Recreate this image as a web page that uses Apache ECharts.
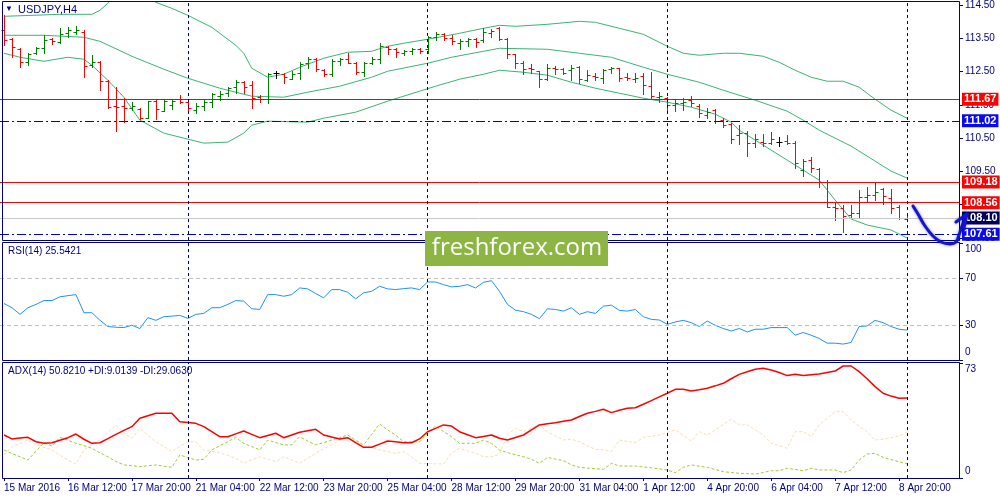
<!DOCTYPE html>
<html><head><meta charset="utf-8">
<script src="https://cdn.jsdelivr.net/npm/echarts@6/dist/echarts.min.js"></script>
<style>html,body{margin:0;padding:0;background:#fff}#c{width:1000px;height:500px}</style>
</head><body><div id="c"></div>
<script>
// ---------- DATA ----------
const tickLabels = ['15 Mar 2016','16 Mar 12:00','17 Mar 20:00','21 Mar 04:00','22 Mar 12:00','23 Mar 20:00','25 Mar 04:00','28 Mar 12:00','29 Mar 20:00','31 Mar 04:00','1 Apr 12:00','4 Apr 20:00','6 Apr 04:00','7 Apr 12:00','8 Apr 20:00'];
const weekStarts = [23, 53, 83, 113];
const priceTicks = [114.5, 113.5, 112.5, 111.5, 110.5, 109.5, 108.5, 107.5];

const open = [113.74,113.47,113.17,112.78,113.05,113.20,113.47,113.38,113.65,113.68,
 113.68,112.69,112.78,112.21,111.46,111.46,111.40,111.37,111.10,111.61,
 111.31,111.49,111.67,111.58,111.34,111.46,111.58,111.76,111.85,112.03,
 112.18,112.09,111.73,111.67,112.45,112.42,112.27,112.45,112.75,112.87,
 112.54,112.42,112.81,112.87,112.75,112.48,112.75,112.87,113.23,113.17,
 113.05,113.11,113.17,113.17,113.53,113.62,113.50,113.35,113.41,113.47,
 113.44,113.65,113.80,113.47,113.02,112.75,112.60,112.51,112.27,112.60,
 112.57,112.54,112.63,112.24,112.36,112.30,112.57,112.60,112.33,112.27,
 112.36,112.06,111.73,111.70,111.49,111.55,111.64,111.46,111.19,111.34,
 111.04,110.92,110.59,110.65,110.35,110.38,110.35,110.38,110.41,110.35,
 109.54,109.84,109.57,109.18,108.43,108.40,108.19,108.25,108.73,108.79,
 108.97,108.70,108.43,108.07];
const high = [114.19,113.50,113.20,113.05,113.23,113.59,113.50,113.80,113.83,113.86,
 113.74,112.99,112.81,112.24,112.03,111.70,111.58,111.40,111.61,111.64,
 111.64,111.64,111.79,111.58,111.55,111.64,111.85,111.91,112.03,112.24,
 112.21,112.21,111.79,112.45,112.51,112.45,112.51,112.78,112.93,112.90,
 112.57,112.87,112.90,113.05,112.78,112.78,112.93,113.35,113.26,113.20,
 113.14,113.20,113.20,113.56,113.68,113.65,113.59,113.47,113.50,113.50,
 113.80,113.77,113.83,113.50,113.02,112.81,112.72,112.51,112.72,112.66,
 112.60,112.69,112.66,112.54,112.45,112.57,112.63,112.60,112.45,112.45,
 112.45,112.48,111.88,111.73,111.64,111.70,111.76,111.52,111.40,111.37,
 111.10,110.95,110.89,110.71,110.62,110.62,110.68,110.53,110.59,110.41,
 109.87,109.93,109.60,109.24,108.55,108.49,108.49,108.94,109.03,109.15,
 109.00,108.97,108.49,108.19];
const low = [113.29,112.93,112.63,112.69,113.02,113.05,113.32,113.35,113.53,113.62,
 112.33,112.63,111.94,111.40,110.71,110.98,111.34,111.07,111.10,111.07,
 111.31,111.37,111.55,111.25,111.25,111.34,111.43,111.64,111.76,111.85,
 111.85,111.40,111.58,111.55,112.30,112.15,112.27,112.27,112.60,112.51,
 112.36,112.36,112.69,112.75,112.42,112.36,112.72,112.75,113.02,112.93,
 112.99,113.02,113.05,113.05,113.44,113.44,113.32,113.17,113.26,113.23,
 113.38,113.53,113.44,112.90,112.60,112.42,112.45,112.03,112.24,112.42,
 112.42,112.24,112.15,112.21,112.24,112.15,112.45,112.21,112.24,112.18,
 111.82,111.70,111.58,111.34,111.31,111.34,111.46,111.13,111.10,110.95,
 110.83,110.35,110.32,109.96,110.23,110.26,110.32,110.26,110.32,109.60,
 109.36,109.48,109.03,108.43,108.04,107.68,108.13,108.13,108.58,108.64,
 108.52,108.25,108.07,108.04];
const close = [113.44,113.23,112.78,113.02,113.20,113.44,113.41,113.62,113.74,113.74,
 112.66,112.78,112.21,111.43,111.43,111.40,111.46,111.10,111.61,111.37,
 111.61,111.61,111.58,111.40,111.46,111.58,111.82,111.82,112.00,112.18,
 112.03,111.70,111.67,112.42,112.45,112.33,112.42,112.72,112.87,112.57,
 112.42,112.81,112.87,112.75,112.48,112.75,112.87,113.26,113.17,113.08,
 113.11,113.17,113.11,113.53,113.62,113.50,113.41,113.41,113.47,113.38,
 113.68,113.71,113.47,113.02,112.75,112.57,112.57,112.27,112.60,112.57,
 112.45,112.60,112.27,112.39,112.33,112.54,112.60,112.30,112.30,112.30,
 112.09,111.76,111.76,111.49,111.55,111.58,111.55,111.25,111.28,111.01,
 110.89,110.47,110.65,110.35,110.47,110.35,110.47,110.38,110.35,109.75,
 109.81,109.60,109.18,108.43,108.40,108.16,108.25,108.73,108.79,108.88,
 108.76,108.40,108.10,108.10];

const bbUpper = [[0,114.16],[7,114.22],[11,114.22],[12,114.34],[13,114.55],[14,114.82],[16,115.00],[18,114.79],[19,114.58],[21,114.40],[23,114.19],[26,113.83],[29,113.29],[30,113.05],[31,112.60],[33,112.33],[35,112.42],[37,112.63],[40,112.90],[43,113.08],[46,113.11],[48,113.26],[50,113.35],[53,113.47],[57,113.65],[60,113.80],[62,113.89],[64,113.86],[68,113.92],[72,114.01],[74,113.98],[77,113.80],[80,113.62],[83,113.26],[85,113.05],[87,112.99],[90,113.05],[92,113.05],[95,112.96],[97,112.78],[99,112.54],[101,112.33],[103,112.21],[105,112.21],[107,112.03],[109,111.67],[111,111.34],[113,111.10]];
const bbMiddle = [[0,113.59],[5,113.59],[10,113.53],[12,113.41],[16,112.96],[20,112.57],[23,112.30],[27,112.00],[31,111.76],[35,111.73],[38,111.88],[42,112.06],[46,112.33],[48,112.51],[53,112.75],[56,112.93],[60,113.11],[62,113.20],[68,113.17],[72,113.05],[76,112.93],[80,112.63],[83,112.42],[87,112.18],[90,111.94],[94,111.64],[98,111.31],[100,111.04],[102,110.74],[106,110.26],[109,109.81],[111,109.51],[113,109.30]];
const bbLower = [[0,113.05],[2,112.93],[5,112.81],[8,112.93],[10,112.87],[11,112.69],[13,112.24],[15,111.73],[17,111.04],[20,110.65],[23,110.47],[25,110.35],[28,110.38],[30,110.65],[31,110.89],[33,111.01],[38,110.98],[40,111.10],[44,111.28],[48,111.61],[52,111.91],[54,112.06],[57,112.27],[60,112.42],[62,112.54],[65,112.48],[68,112.39],[71,112.18],[74,112.00],[77,111.85],[80,111.70],[83,111.58],[86,111.43],[89,111.22],[91,110.98],[92,110.74],[94,110.44],[98,109.84],[102,109.24],[104,108.64],[106,108.07],[108,107.89],[111,107.74],[113,107.50]];

const rsi = [48.3,44.7,39.0,44.7,47.5,50.8,50.8,54.0,55.0,55.9,
 40.4,40.4,34.0,28.6,28.0,27.7,29.7,26.9,36.2,33.9,
 37.0,37.5,38.1,35.6,39.0,39.8,44.7,44.7,47.5,50.8,
 50.3,43.8,43.2,55.9,55.9,54.5,55.9,61.6,60.8,56.8,
 53.1,60.2,60.2,57.9,52.3,57.4,58.7,63.0,60.8,60.2,
 61.0,61.6,60.2,66.7,66.7,64.4,62.5,63.0,64.4,61.6,
 66.4,67.8,58.7,47.5,42.6,41.3,39.0,35.3,43.8,43.2,
 41.8,44.7,39.0,41.3,39.8,46.0,46.9,42.4,41.8,43.2,
 37.0,34.7,34.2,30.5,32.5,33.9,31.9,28.6,33.3,29.7,
 26.9,24.8,26.9,24.0,26.3,26.3,27.7,27.7,27.7,21.2,
 23.5,21.2,18.4,14.4,14.4,13.6,15.0,28.6,29.1,33.9,
 31.9,28.6,26.3,25.5421];

const adx = [27.3,24.8,25.4,25.8,23.0,22.0,22.4,24.0,25.6,27.9,
 24.6,22.0,22.4,25.0,27.7,30.2,32.6,37.9,39.5,41.1,
 41.1,41.1,35.7,35.2,34.7,32.6,29.5,26.2,26.2,28.0,
 29.8,27.7,25.6,27.0,28.4,25.6,27.3,29.0,30.0,30.9,
 27.3,26.0,24.8,25.6,22.4,19.5,19.5,21.5,23.5,23.0,
 22.4,22.4,24.8,29.4,31.5,33.7,33.0,29.4,27.5,25.6,
 26.4,27.3,25.2,24.1,25.7,27.3,30.5,33.7,34.4,35.1,
 36.0,36.8,39.0,41.1,42.3,43.6,41.5,43.0,44.3,44.6,
 46.8,49.1,51.5,53.8,56.3,56.3,55.2,56.0,57.0,58.5,
 60.1,63.0,65.8,67.5,69.0,69.7,68.6,67.0,65.0,65.8,
 65.0,65.5,66.0,67.0,67.9,71.1,71.1,67.5,63.0,58.0,
 53.8,52.0,50.6,50.821];
const plusDI = [17.8,15.5,13.5,11.4,17.0,22.4,20.3,25.8,24.0,22.0,
 20.5,18.9,16.0,13.5,10.5,8.3,7.8,7.2,7.8,8.3,
 7.5,6.8,14.6,13.0,11.4,11.9,17.8,20.5,23.0,25.8,
 22.0,20.0,17.8,24.1,22.5,21.0,21.0,26.2,23.5,21.0,
 22.5,24.1,25.5,27.3,24.0,21.0,27.5,34.3,30.5,27.3,
 23.0,23.0,23.0,28.4,33.0,29.5,26.2,22.0,22.0,22.0,
 24.1,22.0,17.8,16.1,14.8,13.5,11.9,9.3,13.1,12.0,
 11.0,8.3,6.8,6.3,5.9,5.5,9.3,7.6,7.6,7.6,
 7.0,6.5,5.8,5.1,3.4,6.8,8.3,7.5,6.8,5.4,
 4.0,3.5,3.0,2.8,2.5,3.5,4.6,4.6,6.2,5.4,
 4.6,6.2,5.1,5.1,5.1,3.4,5.1,11.4,15.2,15.7,
 13.1,11.7,10.3,9.0139];
const minusDI = [14.6,19.9,22.0,24.1,21.0,19.5,17.8,14.5,11.4,8.9,
 17.8,21.0,24.1,29.0,33.7,28.4,25.2,31.6,27.0,23.0,
 20.0,16.7,20.0,23.0,23.0,17.8,17.0,16.1,14.3,12.5,
 9.3,11.5,13.5,12.0,10.3,13.5,11.5,9.3,12.5,15.7,
 18.5,21.0,24.0,27.3,23.0,21.0,19.4,17.8,16.8,15.7,
 16.7,13.5,9.3,9.1,9.0,8.9,15.7,18.9,17.3,15.7,
 13.5,13.5,15.0,27.3,31.6,29.4,31.6,33.7,29.4,26.7,
 24.1,24.6,23.0,20.5,18.2,17.8,16.7,24.1,23.2,22.4,
 25.8,26.5,27.3,29.0,30.5,27.0,23.5,29.4,27.3,30.5,
 34.0,37.3,33.7,33.7,30.5,27.3,22.0,20.5,18.9,29.4,
 29.4,26.2,33.7,38.0,42.1,42.1,36.8,33.0,29.4,24.1,
 24.6,25.6,26.7,29.063];

const levels = [
  {value: 111.67, kind: 'res'},
  {value: 111.02, kind: 'dash'},
  {value: 109.18, kind: 'res'},
  {value: 108.56, kind: 'res'},
  {value: 108.10, kind: 'bid'},
  {value: 107.61, kind: 'dash'}
];
const rsiLevels = [70, 30];

// ---------- STYLE ----------
const NAVY = '#000080';
const FONT = 'Liberation Sans';
const FS = 10;
const N = 120;
const cats = Array.from({length: N}, (_, i) => String(i));
const UP = '#008000', DOWN = '#ff0000', DOJI = '#000000';

const vLines = {
  silent: true, symbol: ['none', 'none'], animation: false,
  label: {show: false},
  lineStyle: {color: NAVY, type: [3, 3], width: 1},
  data: weekStarts.map(i => ({xAxis: String(i)}))
};

const levelStyle = {
  res:  {line: {color: '#ff0000', type: 'solid', width: 1}, bg: '#ff0000'},
  dash: {line: {color: '#0000cc', type: [9, 3, 2, 3], width: 1}, bg: '#0a0af0'},
  bid:  {line: {color: '#c8c8c8', type: 'solid', width: 1}, bg: '#00005a'}
};

const chart = echarts.init(document.getElementById('c'));

function xAx(grid, showLabels) {
  const show = idx => idx % 8 === 0 && idx <= 112;
  return {
    type: 'category', gridIndex: grid, data: cats, boundaryGap: true,
    axisLine: {show: false},
    axisTick: {show: showLabels, interval: show, alignWithLabel: true, length: 3, lineStyle: {color: NAVY}},
    axisLabel: {show: showLabels, interval: show, align: 'left', margin: 5,
      color: NAVY, fontFamily: FONT, fontSize: FS,
      formatter: (v, idx) => tickLabels[idx / 8]},
    splitLine: {show: false}
  };
}

const yBase = {
  position: 'right', splitLine: {show: false},
  axisLine: {show: true, lineStyle: {color: NAVY}},
  axisTick: {show: true, length: 4, lineStyle: {color: NAVY}},
};

const option = {
  animation: false,
  textStyle: {fontFamily: FONT},
  grid: [
    {left: -1, width: 960, top: 2, height: 238},
    {left: -1, width: 960, top: 243, height: 117},
    {left: -1, width: 960, top: 363, height: 115}
  ],
  xAxis: [xAx(0, false), xAx(1, false), xAx(2, true)],
  yAxis: [
    Object.assign({}, yBase, {
      gridIndex: 0, type: 'value', min: 107.44, max: 114.58,
      axisTick: {show: true, length: 4, lineStyle: {color: NAVY}, customValues: priceTicks},
      axisLabel: {customValues: priceTicks, color: NAVY, fontFamily: FONT, fontSize: FS, margin: 6,
        formatter: v => v.toFixed(2)}
    }),
    Object.assign({}, yBase, {
      gridIndex: 1, type: 'value', min: 0, max: 100,
      axisTick: {show: true, length: 4, lineStyle: {color: NAVY}, customValues: [0, 30, 70, 100]},
      axisLabel: {customValues: [0, 30, 70, 100], color: NAVY, fontFamily: FONT, fontSize: FS, margin: 6,
        formatter: v => v === 100 ? '{t|100}' : v === 0 ? '{b|0}' : String(v),
        rich: {t: {padding: [12, 0, 0, 0], color: NAVY, fontFamily: FONT, fontSize: FS},
               b: {padding: [0, 0, 15, 0], color: NAVY, fontFamily: FONT, fontSize: FS}}}
    }),
    Object.assign({}, yBase, {
      gridIndex: 2, type: 'value', min: 0, max: 73,
      axisTick: {show: true, length: 4, lineStyle: {color: NAVY}, customValues: [0, 73]},
      axisLabel: {customValues: [0, 73], color: NAVY, fontFamily: FONT, fontSize: FS, margin: 6,
        formatter: v => v === 73 ? '{t|73}' : '{b|0}',
        rich: {t: {padding: [12, 0, 0, 0], color: NAVY, fontFamily: FONT, fontSize: FS},
               b: {padding: [0, 0, 14, 0], color: NAVY, fontFamily: FONT, fontSize: FS}}}
    })
  ],
  series: [
    {
      type: 'line', name: 'BB middle', xAxisIndex: 0, yAxisIndex: 0, data: bbMiddle,
      symbol: 'none', lineStyle: {color: '#3cb371', width: 1}, z: 2,
      markLine: {
        silent: true, symbol: ['none', 'none'], animation: false, precision: 2,
        data: levels.map(l => ({
          yAxis: l.value,
          lineStyle: levelStyle[l.kind].line,
          label: {show: true, position: 'end', distance: 3, formatter: l.value.toFixed(2),
            backgroundColor: levelStyle[l.kind].bg, color: '#ffffff', fontFamily: FONT,
            fontSize: 11, fontWeight: 'bold', padding: [1, 2, 1, 2]}
        }))
      }
    },
    {type: 'line', name: 'BB upper', xAxisIndex: 0, yAxisIndex: 0, data: bbUpper,
     symbol: 'none', lineStyle: {color: '#3cb371', width: 1}, z: 2},
    {type: 'line', name: 'BB lower', xAxisIndex: 0, yAxisIndex: 0, data: bbLower,
     symbol: 'none', lineStyle: {color: '#3cb371', width: 1}, z: 2, markLine: vLines},
    {
      type: 'custom', name: 'USDJPY', xAxisIndex: 0, yAxisIndex: 0, z: 3,
      data: open.map((o, i) => [i, o, high[i], low[i], close[i]]),
      encode: {x: 0, y: [1, 2, 3, 4]},
      renderItem(params, api) {
        const i = api.value(0), o = api.value(1), h = api.value(2), l = api.value(3), c = api.value(4);
        const po = api.coord([i, o]), ph = api.coord([i, h]), pl = api.coord([i, l]), pc = api.coord([i, c]);
        const x = Math.round(po[0]) + 0.5;
        const col = c > o ? UP : (c < o ? DOWN : DOJI);
        const oy = Math.round(po[1]) + 0.5, cy = Math.round(pc[1]) + 0.5;
        const st = {stroke: col, lineWidth: 1};
        return {type: 'group', children: [
          {type: 'line', shape: {x1: x, y1: Math.round(ph[1]), x2: x, y2: Math.round(pl[1]) + 1}, style: st},
          {type: 'line', shape: {x1: x - 3, y1: oy, x2: x, y2: oy}, style: st},
          {type: 'line', shape: {x1: x, y1: cy, x2: x + 3, y2: cy}, style: st}
        ]};
      }
    },
    {
      type: 'line', name: 'RSI', xAxisIndex: 1, yAxisIndex: 1, data: rsi,
      symbol: 'none', lineStyle: {color: '#1e90ff', width: 1},
      markLine: {
        silent: true, symbol: ['none', 'none'], animation: false,
        label: {show: false},
        data: rsiLevels.map(v => ({yAxis: v}))
          .concat(weekStarts.map(i => ({xAxis: String(i), lineStyle: {color: NAVY, type: [3, 3]}}))),
        lineStyle: {color: '#c0c0c0', type: [4, 3], width: 1}
      }
    },
    {type: 'line', name: '-DI', xAxisIndex: 2, yAxisIndex: 2, data: minusDI,
     symbol: 'none', lineStyle: {color: '#f5deb3', width: 1, type: [3, 2]}},
    {type: 'line', name: '+DI', xAxisIndex: 2, yAxisIndex: 2, data: plusDI,
     symbol: 'none', lineStyle: {color: '#9acd32', width: 1, type: [3, 2]}},
    {type: 'line', name: 'ADX', xAxisIndex: 2, yAxisIndex: 2, data: adx,
     symbol: 'none', lineStyle: {color: '#ff0000', width: 1.5}, markLine: vLines}
  ],
  graphic: [
    {type: 'rect', shape: {x: 2.5, y: 1.5, width: 957, height: 239}, style: {fill: 'none', stroke: NAVY, lineWidth: 1}, z: 50, silent: true},
    {type: 'rect', shape: {x: 2.5, y: 242.5, width: 957, height: 118}, style: {fill: 'none', stroke: NAVY, lineWidth: 1}, z: 50, silent: true},
    {type: 'rect', shape: {x: 2.5, y: 362.5, width: 957, height: 116}, style: {fill: 'none', stroke: NAVY, lineWidth: 1}, z: 50, silent: true},
    {type: 'text', left: 5, top: 5, style: {text: '▼', fill: NAVY, font: '8px ' + FONT}, z: 60},
    {type: 'text', left: 18, top: 4, style: {text: 'USDJPY,H4', fill: NAVY, font: '11px ' + FONT}, z: 60},
    {type: 'text', left: 8, top: 246, style: {text: 'RSI(14) 25.5421', fill: NAVY, font: '10px ' + FONT}, z: 60},
    {type: 'text', left: 8, top: 366, style: {text: 'ADX(14) 50.8210 +DI:9.0139 -DI:29.0630', fill: NAVY, font: '10px ' + FONT}, z: 60},
    {type: 'rect', z: 100, silent: true, shape: {x: 425, y: 231, width: 183, height: 35}, style: {fill: '#8db543'}},
    {type: 'text', z: 101, silent: true, x: 517, y: 248.5,
     style: {text: 'freshforex.com', fill: '#ffffff', font: '24px "Open Sans"', align: 'center', verticalAlign: 'middle'}},
    {type: 'polyline', z: 110, silent: true,
     shape: {points: [[913, 206], [918, 214], [925, 226], [933, 236], [941, 242], [950, 244], [956, 242], [959, 235], [962, 226], [966, 215]], smooth: 0.4},
     style: {stroke: '#1414d8', lineWidth: 3, fill: 'none', lineCap: 'round', shadowBlur: 3, shadowColor: 'rgba(0,0,80,0.5)'}},
    {type: 'polyline', z: 110, silent: true,
     shape: {points: [[956, 222], [967, 214], [964, 228]]},
     style: {stroke: '#1414d8', lineWidth: 3, fill: 'none', lineCap: 'round', lineJoin: 'round', shadowBlur: 3, shadowColor: 'rgba(0,0,80,0.5)'}}
  ]
};
chart.setOption(option);
</script>
</body></html>
